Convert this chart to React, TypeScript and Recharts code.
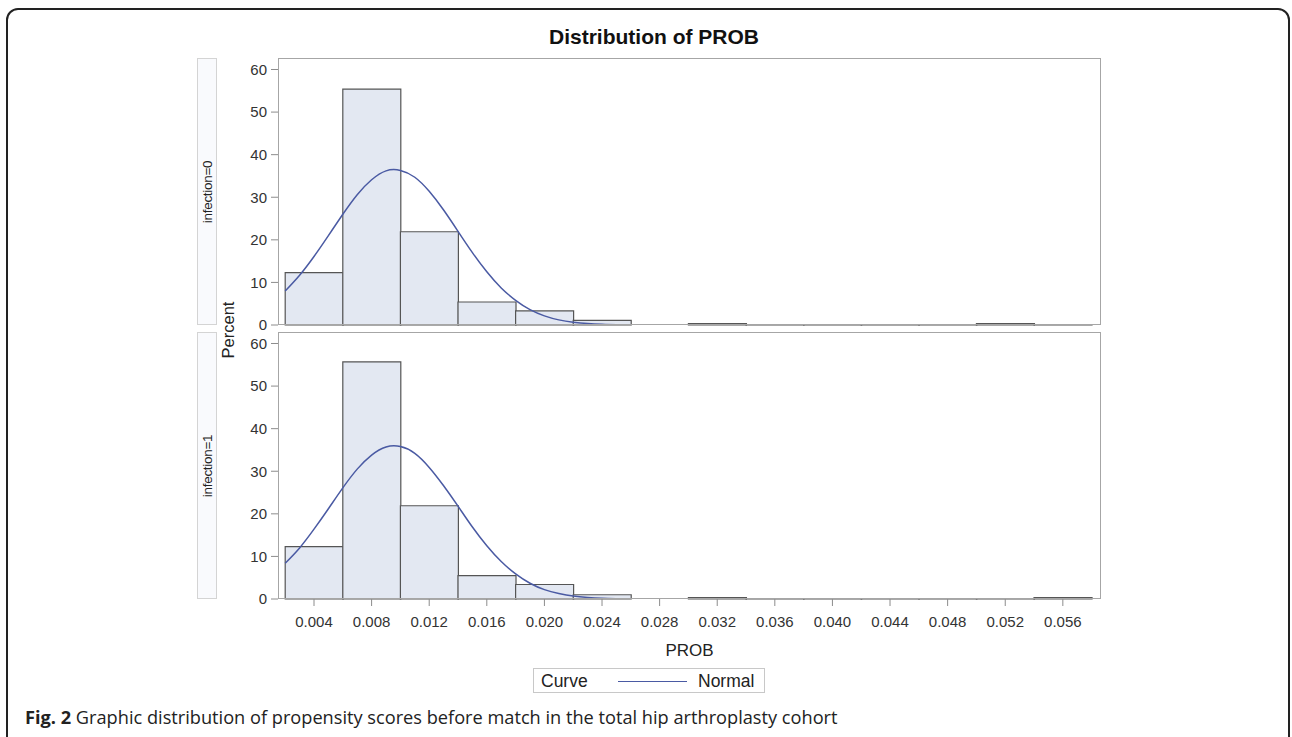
import { BarChart, Bar, LineChart, Line, XAxis, YAxis } from "recharts";

// histogram bins (midpoints) and percent per bin
const BIN_MID = [0.004, 0.008, 0.012, 0.016, 0.02, 0.024, 0.028, 0.032, 0.036, 0.04, 0.044, 0.048, 0.052, 0.056];
const PCT_INF0 = [12.3, 55.4, 21.9, 5.4, 3.3, 1.1, 0, 0.3, 0.1, 0.1, 0.1, 0.1, 0.3, 0.1];
const PCT_INF1 = [12.3, 55.7, 21.9, 5.5, 3.4, 1.0, 0, 0.3, 0.1, 0.1, 0.1, 0.1, 0.1, 0.3];

// normal curve, sampled by eye
const CURVE_X = [
  0.002, 0.003, 0.004, 0.005, 0.006, 0.007, 0.008, 0.009, 0.01, 0.011, 0.012, 0.013, 0.014, 0.015,
  0.016, 0.017, 0.018, 0.019, 0.02, 0.021, 0.022, 0.023, 0.024, 0.025, 0.026, 0.028, 0.03,
  0.034, 0.038, 0.042, 0.046, 0.05, 0.054, 0.058,
];
const CURVE_INF0 = [
  8.0, 11.7, 16.1, 21.0, 26.0, 30.6, 34.1, 36.2, 36.3, 34.7, 31.4, 27.0, 22.0, 17.0,
  12.5, 8.7, 5.8, 3.6, 2.15, 1.2, 0.65, 0.33, 0.16, 0.07, 0.03, 0, 0,
  0, 0, 0, 0, 0, 0, 0,
];
const CURVE_INF1 = [
  8.4, 12.0, 16.4, 21.2, 26.1, 30.5, 33.8, 35.7, 35.8, 34.2, 30.9, 26.6, 21.8, 16.9,
  12.5, 8.8, 5.9, 3.7, 2.2, 1.3, 0.7, 0.36, 0.17, 0.08, 0.03, 0, 0,
  0, 0, 0, 0, 0, 0, 0,
];

const X_TICKS = [0.004, 0.008, 0.012, 0.016, 0.02, 0.024, 0.028, 0.032, 0.036, 0.04, 0.044, 0.048, 0.052, 0.056];
const Y_TICKS = [0, 10, 20, 30, 40, 50, 60];

const X_DOMAIN: [number, number] = [0.0015, 0.05865];
const Y_DOMAIN: [number, number] = [0, 62.7];

const PLOT_LEFT = 278;
const PLOT_RIGHT = 1101;
const PLOT_H = 267;
const W = 1292;
const FONT = "'Liberation Sans', Arial, sans-serif";
const CURVE_COLOR = "#4a5aa3";

const tickStyle = { fill: "#333", fontSize: 15, fontFamily: FONT };

interface PanelProps {
  top: number;
  pct: number[];
  curve: number[];
  label: string;
  showX: boolean;
}

function Panel({ top, pct, curve, label, showX }: PanelProps) {
  const bars = BIN_MID.map((x, i) => ({ x, pct: pct[i] }));
  const line = CURVE_X.map((x, i) => ({ x, y: curve[i] }));
  const h = showX ? 660 : 340;
  const below = h - top - PLOT_H;
  const xAxisH = 40;

  return (
    <>
      <div
        style={{
          position: "absolute",
          left: 197,
          top,
          width: 20,
          height: PLOT_H,
          boxSizing: "border-box",
          border: "1px solid #d4d4d4",
          background: "#f9fafd",
        }}
      >
        <div
          style={{
            position: "absolute",
            left: "50%",
            top: "50%",
            transform: "translate(-50%, -50%) rotate(-90deg)",
            fontFamily: FONT,
            fontSize: 13.5,
            color: "#222",
            whiteSpace: "nowrap",
            letterSpacing: -0.3,
          }}
        >
          {label}
        </div>
      </div>

      <div style={{ position: "absolute", left: 0, top: 0 }}>
        <BarChart
          width={W}
          height={h}
          data={bars}
          barCategoryGap={0}
          margin={{ top, left: PLOT_LEFT - 30, right: W - PLOT_RIGHT, bottom: showX ? below - xAxisH : below }}
        >
          <XAxis
            dataKey="x"
            type="number"
            domain={X_DOMAIN}
            allowDataOverflow
            ticks={X_TICKS}
            tickFormatter={(v: number) => v.toFixed(3)}
            hide={!showX}
            height={xAxisH}
            axisLine={false}
            tickLine={{ stroke: "#8c8c8c" }}
            tickSize={7}
            tickMargin={10}
            tick={tickStyle}
            interval={0}
          />
          <YAxis
            type="number"
            domain={Y_DOMAIN}
            ticks={Y_TICKS}
            width={30}
            axisLine={false}
            tickLine={{ stroke: "#8c8c8c" }}
            tickSize={7}
            tickMargin={4}
            tick={tickStyle}
            interval={0}
          />
          <Bar dataKey="pct" fill="#e3e8f2" stroke="#555" strokeWidth={1.2} isAnimationActive={false} />
        </BarChart>
      </div>

      <div style={{ position: "absolute", left: 0, top: 0 }}>
        <LineChart
          width={W}
          height={h}
          data={line}
          margin={{ top, left: PLOT_LEFT, right: W - PLOT_RIGHT, bottom: below }}
        >
          <XAxis dataKey="x" type="number" domain={X_DOMAIN} allowDataOverflow hide />
          <YAxis type="number" domain={Y_DOMAIN} allowDataOverflow hide />
          <Line
            dataKey="y"
            type="natural"
            stroke={CURVE_COLOR}
            strokeWidth={1.5}
            dot={false}
            isAnimationActive={false}
          />
        </LineChart>
      </div>

      <div
        style={{
          position: "absolute",
          left: PLOT_LEFT,
          top,
          width: PLOT_RIGHT - PLOT_LEFT,
          height: PLOT_H,
          boxSizing: "border-box",
          border: "1px solid #a6a6a6",
          pointerEvents: "none",
        }}
      />
    </>
  );
}

export default function App() {
  return (
    <div
      style={{
        position: "absolute",
        left: 0,
        top: 0,
        width: W,
        height: 737,
        overflow: "hidden",
        background: "#fff",
        fontFamily: FONT,
      }}
    >
      <div
        style={{
          position: "absolute",
          left: 6,
          top: 8,
          width: 1284,
          height: 760,
          boxSizing: "border-box",
          border: "2px solid #222",
          borderRadius: 12,
        }}
      />

      <div
        style={{
          position: "absolute",
          left: 0,
          width: W,
          top: 25,
          textAlign: "center",
          paddingLeft: 8,
          fontSize: 21,
          fontWeight: "bold",
          color: "#111",
          lineHeight: "24px",
        }}
      >
        Distribution of PROB
      </div>

      <Panel top={58} pct={PCT_INF0} curve={CURVE_INF0} label="infection=0" showX={false} />
      <Panel top={332} pct={PCT_INF1} curve={CURVE_INF1} label="infection=1" showX />

      <div
        style={{
          position: "absolute",
          left: 228,
          top: 330,
          transform: "translate(-50%, -50%) rotate(-90deg)",
          fontSize: 16.5,
          color: "#222",
          whiteSpace: "nowrap",
        }}
      >
        Percent
      </div>

      <div
        style={{
          position: "absolute",
          left: PLOT_LEFT,
          width: PLOT_RIGHT - PLOT_LEFT,
          top: 641,
          textAlign: "center",
          fontSize: 17,
          color: "#222",
          lineHeight: "20px",
        }}
      >
        PROB
      </div>

      <div
        style={{
          position: "absolute",
          left: 533,
          top: 668,
          width: 232,
          height: 25,
          boxSizing: "border-box",
          border: "1px solid #c8c8c8",
          fontSize: 17.5,
          color: "#222",
        }}
      >
        <span style={{ position: "absolute", left: 7, top: 1, lineHeight: "22px" }}>Curve</span>
        <span
          style={{
            position: "absolute",
            left: 84,
            top: 12,
            width: 69,
            height: 0,
            borderTop: `1.5px solid ${CURVE_COLOR}`,
          }}
        />
        <span style={{ position: "absolute", left: 164, top: 1, lineHeight: "22px" }}>Normal</span>
      </div>

      <div
        style={{
          position: "absolute",
          left: 25,
          top: 706,
          fontFamily: "'Open Sans', sans-serif",
          fontSize: 18.2,
          color: "#222",
          whiteSpace: "nowrap",
          lineHeight: "22px",
        }}
      >
        <b>Fig. 2</b> Graphic distribution of propensity scores before match in the total hip arthroplasty cohort
      </div>
    </div>
  );
}
